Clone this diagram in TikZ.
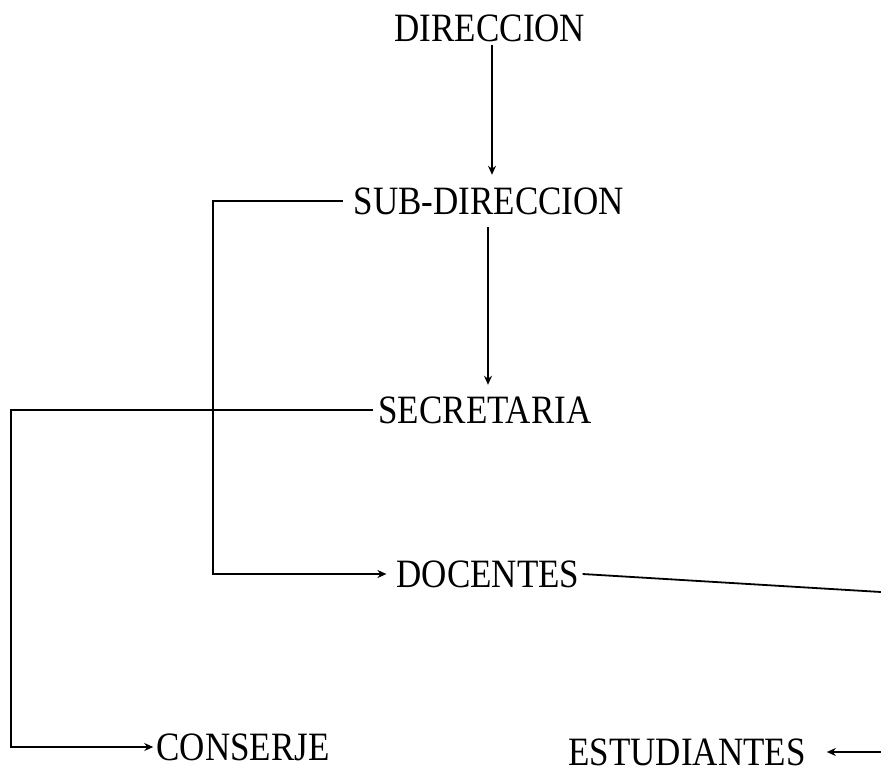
\documentclass[tikz,border=0pt]{standalone}
\usepackage{fontspec}
\setmainfont{Liberation Serif}
\usetikzlibrary{arrows.meta}
\newcommand{\stretchtxt}[1]{\scalebox{1}[1.15]{#1}}
\begin{document}
\begin{tikzpicture}[x=1pt,y=-1pt,
  lbl/.style={inner sep=0pt, text height=26pt, text depth=0pt, font=\fontsize{35}{42}\selectfont},
  ln/.style={line width=1.8pt},
  arr/.style={ln, -{Stealth[length=9pt,width=8pt]}}]
\useasboundingbox (0,0) rectangle (881,782);
\node[lbl] (dir) at (490,28) {\stretchtxt{DIRECCION}};
\node[lbl] (sub) at (489,201) {\stretchtxt{SUB-DIRECCION}};
\node[lbl] (sec) at (485,410) {\stretchtxt{SECRETARIA}};
\node[lbl] (doc) at (488,574) {\stretchtxt{DOCENTES}};
\node[lbl] (con) at (243,747) {\stretchtxt{CONSERJE}};
\node[lbl] (est) at (687,752) {\stretchtxt{ESTUDIANTES}};
\coordinate (docR) at (881,592);
\coordinate (estR) at (881,752);
\draw[arr] ([xshift=2pt,yshift=-4pt]dir.south) -- ([xshift=3pt,yshift=13pt]sub.north);
\draw[arr] ([xshift=-1pt,yshift=-13pt]sub.south) -- ([xshift=3pt,yshift=12pt]sec.north);
\draw[arr] ([xshift=-11pt]sub.west) -- ++(-130,0) |- ([xshift=-10pt]doc.west);
\draw[arr] ([xshift=-5pt]sec.west) -- ++(-362,0) |- ([xshift=-3pt]con.west);
\draw[ln] ([xshift=3pt]doc.east) -- (docR);
\draw[arr] (estR) -- ([xshift=21pt]est.east);
\end{tikzpicture}
\end{document}
